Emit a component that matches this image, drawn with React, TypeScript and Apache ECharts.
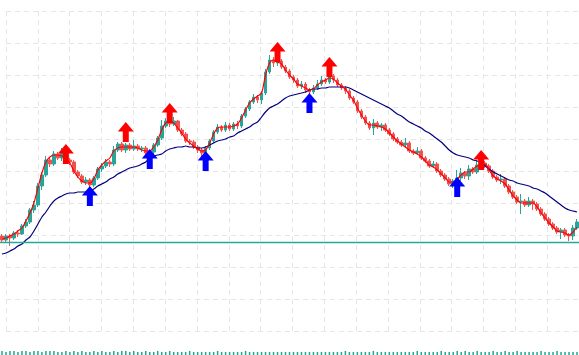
import React, { useEffect, useRef } from "react";
import * as echarts from "echarts";

// price units: arbitrary points
const candles: number[][] = [
  [164,160,157,166],[160,164,158,166],[164,162,154,166],[162,167,160,169],[167,166,163,170],
  [166,174,165,176],[174,178,172,181],[178,190,176,192],[190,195,187,199],[195,214,193,217],
  [214,225,210,228],[225,240,223,244],[240,236,233,243],[236,246,234,249],[246,242,240,248],
  [242,247,239,252],[247,240,238,249],[240,238,235,242],[238,228,226,240],[228,224,222,230],
  [224,218,216,226],[218,220,215,223],[220,215,213,222],[215,222,213,224],[222,231,220,233],
  [231,234,228,237],[234,238,232,241],[238,236,233,240],[236,250,234,254],[250,256,248,258],
  [256,250,248,258],[250,255,247,257],[255,251,249,257],[251,254,249,260],[254,251,249,256],
  [251,252,248,254],[252,247,245,254],[247,248,243,250],[248,255,246,257],[255,262,253,264],
  [262,274,260,280],[274,279,272,282],[279,276,273,281],[276,279,274,283],[279,270,268,280],
  [270,266,264,272],[266,259,257,268],[259,258,255,261],[258,253,251,260],[253,250,247,255],
  [250,247,243,252],[247,252,245,254],[252,259,250,261],[259,268,257,270],[268,273,266,276],
  [273,270,268,275],[270,275,268,278],[275,271,269,277],[271,276,269,278],[276,274,271,279],
  [274,284,272,286],[284,291,282,293],[291,298,289,300],[298,303,296,306],[303,300,297,305],
  [300,307,296,309],[307,328,305,331],[328,340,326,345],[340,337,333,343],[337,339,334,346],
  [339,333,331,341],[333,329,327,335],[329,323,321,331],[323,320,317,325],[320,314,312,322],
  [314,316,311,319],[316,310,307,318],[310,308,305,312],[308,312,306,315],[312,316,310,320],
  [316,320,314,324],[320,318,316,322],[318,324,316,328],[324,320,317,326],[320,315,313,322],
  [315,312,310,317],[312,309,306,314],[309,302,300,311],[302,298,296,304],[298,289,287,300],
  [289,283,281,291],[283,277,275,285],[277,272,270,279],[272,277,265,281],[277,273,271,279],
  [273,275,269,277],[275,270,268,277],[270,266,264,272],[266,261,259,268],[261,258,256,263],
  [258,255,253,260],[255,257,253,262],[257,249,247,259],[249,247,245,251],[247,249,245,253],
  [249,242,240,251],[242,239,237,244],[239,234,232,241],[234,236,232,239],[236,229,227,238],
  [229,225,223,231],[225,221,219,227],[221,216,214,223],[216,219,212,221],[219,222,213,230],
  [222,227,219,232],[227,224,221,229],[224,231,220,235],[231,228,226,233],[228,235,226,240],
  [235,237,233,241],[237,234,232,239],[234,229,227,236],[229,223,221,231],[223,220,218,225],
  [220,221,216,226],[221,214,212,223],[214,208,206,216],[208,203,201,210],[203,198,196,205],
  [198,199,186,206],[199,195,193,201],[195,199,193,203],[199,196,190,201],[196,191,189,198],
  [191,186,184,193],[186,181,179,188],[181,176,174,183],[176,172,170,178],[172,168,166,174],
  [168,170,161,172],[170,165,163,172],[165,164,159,167],[164,172,160,175],[172,178,170,181],
];

const fastLine: number[] = [
  161,162,164,166,169,172,179,187,197,212,
  227,238,243,245,245,244,242,237,229,223,
  219,217,217,221,230,235,239,242,249,252,
  253,253,253,253,252,250,249,249,253,260,
  270,277,278,277,272,267,261,257,254,251,
  249,250,257,266,272,273,273,273,274,276,
  282,290,297,301,304,307,325,337,340,338,
  336,330,325,321,316,314,312,310,311,315,
  318,320,322,321,317,314,311,305,300,292,
  285,279,275,275,274,273,271,267,263,259,
  256,253,250,248,246,243,239,235,233,230,
  226,222,218,218,221,225,228,228,231,234,
  236,236,230,224,221,219,216,210,204,200,
  197,197,197,197,193,187,182,177,173,169,
  168,167,165,168,173,
];

const slowLine: number[] = [
  146,147,149,151,154,156,160,163,169,176,
  183,188,194,199,202,204,206,207,207,208,
  208,208,209,211,214,216,218,221,223,226,
  228,230,232,233,234,236,238,242,244,245,
  246,249,251,252,253,253,254,253,253,252,
  252,253,255,257,259,260,261,263,264,267,
  269,271,273,276,278,283,288,292,294,296,
  299,302,304,305,306,307,308,310,311,311,
  312,312,313,313,313,313,313,312,310,308,
  306,304,302,300,298,296,294,292,289,286,
  284,281,278,276,274,272,269,267,264,261,
  258,254,250,247,245,244,243,242,240,239,
  237,234,231,228,226,224,222,220,219,217,
  216,215,214,212,211,209,207,204,201,198,
  195,192,190,189,188,
];

const volumes: number[] = [
  4,3,4,4,3,4,4,3,4,4,
  3,4,4,4,3,3,4,3,4,3,
  4,3,3,4,3,4,3,3,4,3,
  4,4,3,4,3,3,4,3,3,4,
  3,3,4,3,3,3,3,4,3,3,
  3,3,3,3,4,3,3,3,3,3,
  3,4,3,3,3,3,3,3,3,3,
  3,3,3,3,3,3,3,3,3,3,
  3,3,3,3,3,3,4,3,3,3,
  3,3,3,4,3,3,3,3,3,3,
  3,3,3,3,4,3,3,3,3,3,
  4,3,3,3,4,3,4,3,3,4,
  3,3,3,4,3,3,4,3,3,4,
  3,3,3,3,3,4,3,3,3,4,
  3,3,3,3,3,
];

const supportLevel = 158;

// [candle index, price]
const redArrows: number[][] = [[16,246],[31,268],[42,287],[69,348],[82,333],[120,240]];
const blueArrows: number[][] = [[22,204],[37,241],[51,239],[77,297],[114,213]];

const categories = candles.map((_, i) => String(i));

const ARROW = "path://M8,0L16,9L11,9L11,19L5,19L5,9L0,9Z";

export default function App() {
  const ref = useRef<HTMLDivElement>(null);
  useEffect(() => {
    if (!ref.current) return;
    const chart = echarts.init(ref.current, undefined, { renderer: "svg" });
    const gridLine = { show: true, lineStyle: { color: "#e6e6e6", type: [5, 4] as any, width: 1 } };
    const hidden = { axisLine: { show: false }, axisTick: { show: false }, axisLabel: { show: false } };
    chart.setOption({
      animation: false,
      backgroundColor: "#ffffff",
      grid: [
        { left: 0, top: 0, width: 580, height: 355 },
        { left: 0, top: 345, width: 580, height: 10 },
        { left: 6, top: 11, width: 576, height: 320 },
      ],
      xAxis: [
        { type: "category", gridIndex: 0, data: categories, boundaryGap: true, ...hidden, splitLine: { show: false } },
        { type: "category", gridIndex: 1, data: categories, boundaryGap: true, ...hidden, splitLine: { show: false } },
        { type: "value", gridIndex: 2, min: 0, max: 18, interval: 1, ...hidden, splitLine: gridLine },
      ],
      yAxis: [
        { type: "value", gridIndex: 0, min: 45, max: 400, ...hidden, splitLine: { show: false } },
        { type: "value", gridIndex: 1, min: 0, max: 10, ...hidden, splitLine: { show: false } },
        { type: "value", gridIndex: 2, min: 0, max: 10, interval: 1, ...hidden, splitLine: gridLine },
      ],
      series: [
        {
          type: "bar",
          xAxisIndex: 1,
          yAxisIndex: 1,
          data: volumes,
          barWidth: 1.5,
          itemStyle: { color: "#1ea88e" },
        },
        {
          type: "candlestick",
          xAxisIndex: 0,
          yAxisIndex: 0,
          data: candles,
          barWidth: 3.2,
          itemStyle: {
            color: "#26a69a",
            color0: "#ef5350",
            borderColor: "#26a69a",
            borderColor0: "#ef5350",
            borderWidth: 1,
          },
          markLine: {
            silent: true,
            symbol: ["none", "none"],
            label: { show: false },
            lineStyle: { color: "#22ab9c", type: "solid", width: 1.3 },
            data: [{ yAxis: supportLevel }],
          },
          z: 2,
        },
        {
          type: "line",
          xAxisIndex: 0,
          yAxisIndex: 0,
          data: slowLine,
          smooth: 0.3,
          showSymbol: false,
          lineStyle: { color: "#00007f", width: 1.2 },
          z: 3,
        },
        {
          type: "line",
          xAxisIndex: 0,
          yAxisIndex: 0,
          data: fastLine,
          smooth: 0.3,
          showSymbol: false,
          lineStyle: { color: "#ff0000", width: 1.2 },
          z: 4,
        },
        {
          type: "scatter",
          xAxisIndex: 0,
          yAxisIndex: 0,
          data: redArrows,
          symbol: ARROW,
          symbolSize: [16, 20],
          itemStyle: { color: "#ff0000", opacity: 1 },
          z: 5,
        },
        {
          type: "scatter",
          xAxisIndex: 0,
          yAxisIndex: 0,
          data: blueArrows,
          symbol: ARROW,
          symbolSize: [16, 20],
          itemStyle: { color: "#0000ff", opacity: 1 },
          z: 5,
        },
      ],
    });
    return () => chart.dispose();
  }, []);
  return (
    <div
      ref={ref}
      style={{ position: "fixed", left: 0, top: 0, width: 579, height: 355, background: "#fff" }}
    />
  );
}
